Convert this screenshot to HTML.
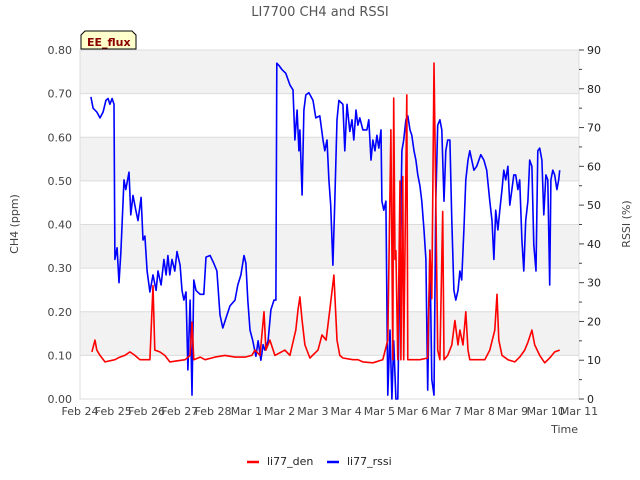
<!DOCTYPE html>
<html><head><meta charset="utf-8"><style>
body{margin:0;background:#fff;font-family:"Liberation Sans","DejaVu Sans",sans-serif}
svg{display:block}
text{font-family:"DejaVu Sans","Liberation Sans",sans-serif}
</style></head><body>
<svg id="chart" width="640" height="480"></svg>
<script>
const xTickLabels=["Feb 24","Feb 25","Feb 26","Feb 27","Feb 28","Mar 1","Mar 2","Mar 3","Mar 4","Mar 5","Mar 6","Mar 7","Mar 8","Mar 9","Mar 10","Mar 11"];
const leftTicks=[0,0.1,0.2,0.3,0.4,0.5,0.6,0.7,0.8];
const rightTicks=[0,10,20,30,40,50,60,70,80,90];
// time values below are in units of 1/16 of the Feb24..Mar11 span (15 days)
const rssiDays=[0.35,0.42,0.54,0.64,0.74,0.83,0.90,0.96,1.03,1.09,1.12,1.19,1.25,1.31,1.41,1.47,1.57,1.63,1.70,1.79,1.86,1.96,2.02,2.08,2.15,2.24,2.34,2.44,2.50,2.60,2.69,2.76,2.82,2.88,2.95,3.04,3.11,3.21,3.27,3.33,3.40,3.46,3.53,3.59,3.65,3.72,3.85,3.97,4.04,4.17,4.29,4.39,4.49,4.58,4.68,4.81,4.97,5.06,5.16,5.26,5.32,5.38,5.45,5.54,5.64,5.71,5.80,5.87,5.93,6.03,6.12,6.22,6.28,6.31,6.38,6.47,6.60,6.73,6.83,6.89,6.96,7.02,7.05,7.12,7.18,7.24,7.34,7.47,7.56,7.69,7.79,7.85,7.92,7.98,8.04,8.11,8.17,8.24,8.30,8.43,8.49,8.56,8.65,8.72,8.78,8.85,8.91,8.97,9.07,9.20,9.26,9.33,9.39,9.46,9.52,9.58,9.65,9.68,9.74,9.81,9.87,9.94,10.00,10.06,10.13,10.19,10.26,10.32,10.38,10.45,10.51,10.58,10.64,10.71,10.77,10.83,10.90,10.96,11.03,11.09,11.15,11.22,11.28,11.35,11.41,11.47,11.54,11.60,11.67,11.73,11.79,11.86,11.92,11.99,12.05,12.12,12.18,12.24,12.31,12.37,12.44,12.50,12.63,12.72,12.85,12.95,13.04,13.14,13.21,13.27,13.33,13.40,13.46,13.53,13.59,13.65,13.72,13.78,13.85,13.91,13.97,14.04,14.10,14.17,14.23,14.29,14.36,14.42,14.49,14.55,14.62,14.68,14.74,14.81,14.87,14.94,15.00,15.06,15.10,15.16,15.22,15.29,15.35,15.38];
const rssiValues=[77.9,75,74,72.5,74,77,77.5,76,77.5,76,36,39,30,38,56.5,54,58.5,47.5,52.5,48.7,46,52,41,42,33,27.6,32,28,33,29.4,36,32,37,32,36,33,38,34.5,28,25.5,27.6,7.5,25.5,1,30.7,28,27,27,36.6,37,35,33,21.7,18.3,20.9,24,25.5,29.4,32,37,35,25.5,17.8,15,11,15,10,14,12.6,15,23,25.5,25.5,86.6,86,85,84,81,79.7,66.8,74.5,64,69.4,52.6,74.5,78.4,79,77,72.5,73,66.8,64,66.8,56.5,50,34.5,51,72,77,76,64,76,69,72,66.8,74.5,70.6,72.5,69.4,69.4,72,61.6,66.8,64,68,64.7,69.4,51,48.7,51,1,17.8,0,15,0,0,36,64,66.8,72,73,69.4,68,64,61.6,57.8,55,51,43.6,36,2.3,38.4,5,1,51,70.6,72,69.4,51,64,66.8,66.8,46,28,25.5,28,33,30.7,43.6,56.5,61.6,64,59,60,63,61.6,59,51,46,36,48.7,43.6,48.7,54,59,56.5,60,50,54,57.8,57.8,54,56.5,41,33,46,51,61.6,60,39.7,33,64,64.7,61.6,47.5,57.8,56.5,29.4,56.5,59,57.8,54,56.5,59];
const ch4Days=[0.38,0.48,0.54,0.64,0.80,1.12,1.28,1.44,1.60,1.76,1.92,2.24,2.34,2.40,2.56,2.72,2.88,3.37,3.53,3.59,3.65,3.85,4.01,4.33,4.65,4.97,5.29,5.51,5.61,5.77,5.90,5.96,6.09,6.25,6.57,6.73,6.92,6.99,7.05,7.12,7.21,7.37,7.63,7.76,7.89,8.01,8.14,8.24,8.33,8.43,8.75,8.91,9.07,9.39,9.71,9.87,9.97,10.03,10.06,10.10,10.13,10.19,10.26,10.29,10.35,10.38,10.48,10.51,10.54,10.90,11.15,11.22,11.28,11.35,11.41,11.47,11.54,11.63,11.67,11.79,11.92,12.02,12.12,12.18,12.28,12.37,12.44,12.50,12.98,13.14,13.30,13.37,13.43,13.53,13.72,13.94,14.10,14.26,14.36,14.49,14.58,14.74,14.90,15.06,15.22,15.38];
const ch4Values=[0.108,0.135,0.112,0.1,0.085,0.09,0.096,0.1,0.108,0.1,0.09,0.09,0.26,0.112,0.108,0.1,0.085,0.09,0.1,0.176,0.09,0.096,0.09,0.096,0.1,0.096,0.096,0.1,0.112,0.1,0.2,0.112,0.135,0.1,0.112,0.1,0.158,0.204,0.234,0.18,0.124,0.094,0.112,0.147,0.135,0.204,0.284,0.135,0.1,0.094,0.09,0.09,0.085,0.083,0.09,0.135,0.617,0.09,0.69,0.32,0.34,0.09,0.5,0.09,0.51,0.09,0.697,0.09,0.09,0.09,0.094,0.34,0.23,0.77,0.46,0.112,0.09,0.43,0.09,0.1,0.124,0.18,0.124,0.158,0.124,0.2,0.112,0.09,0.09,0.112,0.158,0.24,0.135,0.1,0.09,0.085,0.096,0.112,0.13,0.158,0.124,0.1,0.083,0.094,0.108,0.112];

const L=80,R=579,T=50,B=399;
const NS="http://www.w3.org/2000/svg";
const svg=document.getElementById('chart');
const xs=d=>L+(R-L)*d/15;          // d in days since Feb 24
const TIME_UNIT=15/16;             // data time unit -> days
const xd=u=>xs(u*TIME_UNIT);
const yl=v=>B-(B-T)*v/0.8;
const yr=v=>B-(B-T)*v/90;
function el(tag,attrs,parent){const e=document.createElementNS(NS,tag);for(const k in attrs)e.setAttribute(k,attrs[k]);(parent||svg).appendChild(e);return e;}
function txt(s,attrs){const t=el('text',attrs);t.textContent=s;return t;}

const bg=el('g',{});


for(let i=0;i<8;i++){
  const fill=(i%2==1)?'#f2f2f2':'#ffffff';
  el('rect',{x:L,y:yl(leftTicks[i+1]),width:R-L,height:yl(leftTicks[i])-yl(leftTicks[i+1]),fill:fill},bg);
}
leftTicks.forEach(v=>el('line',{x1:L,x2:R,y1:yl(v),y2:yl(v),stroke:'#dcdcdc','stroke-width':1},bg));
el('rect',{x:L,y:T,width:R-L,height:B-T,fill:'none',stroke:'#dcdcdc'},bg);

const t=txt('LI7700 CH4 and RSSI',{x:320,y:16,'text-anchor':'middle','font-size':13,fill:'#555'});


leftTicks.forEach(v=>{const e=txt(v.toFixed(2),{x:L-8,y:yl(v)+4,'text-anchor':'end','font-size':11,fill:'#444'});
});
rightTicks.forEach(v=>{
  el('line',{x1:R,x2:R+5,y1:yr(v),y2:yr(v),stroke:'#444'});
  if(v<90) el('line',{x1:R,x2:R+3,y1:yr(v+5),y2:yr(v+5),stroke:'#444'});
  const e=txt(String(v),{x:R+8,y:yr(v)+4,'font-size':11,fill:'#222'});
  });
xTickLabels.forEach((s,i)=>{const e=txt(s,{x:xs(i),y:B+16,'text-anchor':'middle','font-size':11,fill:'#444'});
});

let a=txt('Time',{x:578,y:433,'text-anchor':'end','font-size':11,fill:'#444'});

a=txt('CH4 (ppm)',{x:18,y:224,'text-anchor':'middle','font-size':11,fill:'#444',transform:'rotate(-90 18 224)'});

a=txt('RSSI (%)',{x:630,y:224,'text-anchor':'middle','font-size':11,fill:'#444',transform:'rotate(-90 630 224)'});


const pr=el('polyline',{points:rssiDays.map((d,i)=>xd(d).toFixed(1)+','+yr(rssiValues[i]).toFixed(1)).join(' '),fill:'none',stroke:'#0000ff','stroke-width':1.6,'stroke-linejoin':'round'});

const pc=el('polyline',{points:ch4Days.map((d,i)=>xd(d).toFixed(1)+','+yl(ch4Values[i]).toFixed(1)).join(' '),fill:'none',stroke:'#ff0000','stroke-width':1.6,'stroke-linejoin':'round'});


const badge=el('g',{});

el('path',{d:'M81,49 V35 L85,31 H132 L136,35 V49 Z',fill:'#ffffcc',stroke:'#000','stroke-width':1},badge);
const bt=el('text',{x:87,y:46,'font-size':11,'font-weight':'bold',fill:'#8b0000'},badge);bt.textContent='EE_flux';

const lg=el('g',{});

const l1=el('g',{},lg);
el('line',{x1:247,x2:259,y1:462,y2:462,stroke:'#ff0000','stroke-width':2.5},l1);
const lt1=el('text',{x:267,y:465,'font-size':11,fill:'#222'},l1);lt1.textContent='li77_den';
const l2=el('g',{},lg);
el('line',{x1:327,x2:339,y1:462,y2:462,stroke:'#0000ff','stroke-width':2.5},l2);
const lt2=el('text',{x:347,y:465,'font-size':11,fill:'#222'},l2);lt2.textContent='li77_rssi';
</script>
</body></html>
